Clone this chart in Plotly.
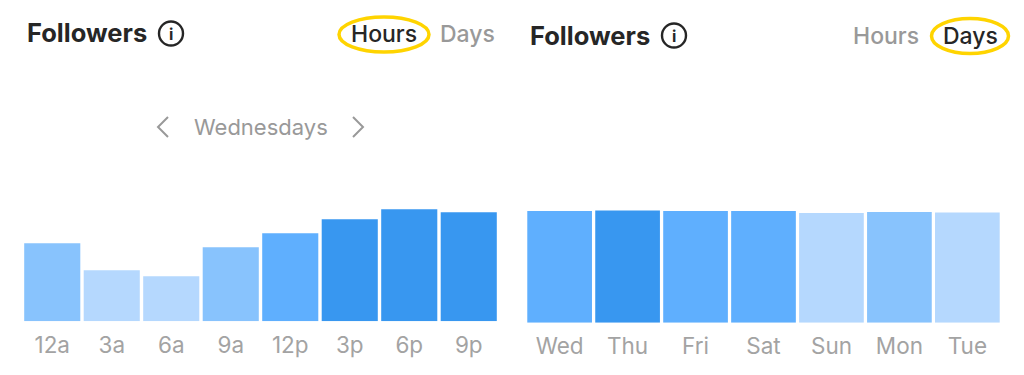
import plotly.graph_objects as go

W, H = 1024, 375
hour_labels = ["12a", "3a", "6a", "9a", "12p", "3p", "6p", "9p"]
hour_values = [78, 51, 45, 74, 88, 102, 112, 109]
hour_colors = ["#88C3FD", "#B5D8FE", "#B5D8FE", "#88C3FD", "#5FAFFE", "#3897F0", "#3897F0", "#3897F0"]
day_labels = ["Wed", "Thu", "Fri", "Sat", "Sun", "Mon", "Tue"]
day_values = [111.7, 112.2, 111.7, 111.7, 109.7, 110.7, 110.2]
day_colors = ["#5FAFFE", "#3897F0", "#5FAFFE", "#5FAFFE", "#B5D8FE", "#88C3FD", "#B5D8FE"]

GREY = "#999999"
DARK = "#262626"
FONT = "Inter, Roboto, sans-serif"


def px(x):
    return x / W


def py(y):
    return 1 - y / H


fig = go.Figure()
fig.add_bar(x=hour_labels, y=hour_values, marker=dict(color=hour_colors, line=dict(width=0)),
            xaxis="x", yaxis="y", width=0.943)
fig.add_bar(x=day_labels, y=day_values, marker=dict(color=day_colors, line=dict(width=0)),
            xaxis="x2", yaxis="y2", width=0.952)

xcommon = dict(type="category", showgrid=False, zeroline=False, showline=False, ticks="",
               tickfont=dict(family=FONT, size=22.5, color="#A3A3A3"), ticklabelstandoff=8, fixedrange=True)
ycommon = dict(showgrid=False, zeroline=False, showline=False, showticklabels=False, ticks="", fixedrange=True)

fig.update_layout(
    width=W, height=H, autosize=False,
    margin=dict(l=0, r=0, t=0, b=0),
    paper_bgcolor="white", plot_bgcolor="white", showlegend=False,
    xaxis=dict(domain=[px(22.5), px(498.5)], anchor="y", range=[-0.5, 7.5], **xcommon),
    yaxis=dict(domain=[py(321.3), py(180)], anchor="x", range=[0, 141.3], **ycommon),
    xaxis2=dict(domain=[px(525.65), px(1001.35)], anchor="y2", range=[-0.5, 6.5], **xcommon),
    yaxis2=dict(domain=[py(322.7), py(180)], anchor="x2", range=[0, 142.7], **ycommon),
)


def text(s, x, y, size, color, weight=400):
    fig.add_annotation(text=s, x=px(x), y=py(y), xref="paper", yref="paper", showarrow=False,
                       xanchor="center", yanchor="middle",
                       font=dict(family=FONT, size=size, color=color, weight=weight))


def ellipse(cx, cy, rx, ry, color, width):
    fig.add_shape(type="circle", xref="paper", yref="paper", x0=px(cx - rx), x1=px(cx + rx),
                  y0=py(cy + ry), y1=py(cy - ry), line=dict(color=color, width=width))


def polyline(points, color, width):
    d = "M " + " L ".join(f"{px(a):.5f},{py(b):.5f}" for a, b in points)
    fig.add_shape(type="path", xref="paper", yref="paper", path=d, line=dict(color=color, width=width))


text("Followers", 86.5, 33, 25.5, DARK, 650)
ellipse(171, 33.5, 12, 12, DARK, 2.4)
text("i", 171, 33.5, 16, DARK, 700)
text("Hours", 383.5, 34, 23, DARK, 500)
text("Days", 467.5, 34, 23, GREY, 500)
ellipse(384, 34.5, 45, 17.5, "#FFD400", 3.5)

text("Wednesdays", 260.5, 127, 22, GREY, 400)
polyline([(168, 117), (158, 127), (168, 137)], GREY, 2)
polyline([(353, 117), (363, 127), (353, 137)], GREY, 2)

text("Followers", 589.5, 35, 25.5, DARK, 650)
ellipse(674, 35.5, 12, 12, DARK, 2.4)
text("i", 674, 35.5, 16, DARK, 700)
text("Hours", 886, 36, 23, GREY, 500)
text("Days", 970.5, 36, 23, DARK, 500)
ellipse(970, 36, 38.5, 17.5, "#FFD400", 3.5)

fig.write_html("out.html", config=dict(displayModeBar=False),
               post_script="document.body.style.margin='0';document.body.style.overflow='hidden';")
